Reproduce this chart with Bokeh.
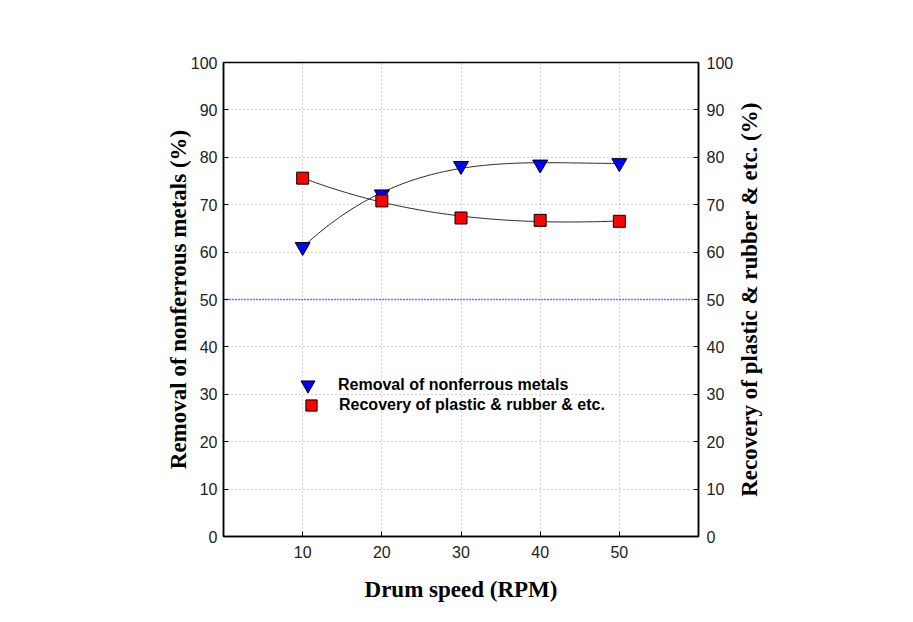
import math
import numpy as np
from bokeh.plotting import figure
from bokeh.layouts import row
from bokeh.models import (LinearAxis, Range1d, FixedTicker, Span, Legend, LegendItem,
                          ColumnDataSource, Label)
from bokeh.embed import file_html
from bokeh.resources import INLINE

# ---- data ----
drum_speed = [10, 20, 30, 40, 50]
removal_nonferrous = [61.1, 72.2, 78.2, 78.5, 78.8]
recovery_plastic = [75.6, 70.8, 67.2, 66.7, 66.5]
x_ticks = [10, 20, 30, 40, 50]
y_ticks = [0, 10, 20, 30, 40, 50, 60, 70, 80, 90, 100]

# ---- fitted trend lines (from the data) ----
xs_fit = np.linspace(min(drum_speed), max(drum_speed), 200)
blue_fit = np.polyval(np.polyfit(drum_speed, removal_nonferrous, 3), xs_fit)
red_fit = np.polyval(np.polyfit(drum_speed, recovery_plastic, 3), xs_fit)

p = figure(width=734, height=610, output_backend="svg", toolbar_location=None,
           x_range=Range1d(0, 60), y_range=Range1d(0, 100),
           min_border_left=223, min_border_right=36, min_border_top=62, min_border_bottom=74)
p.frame_width = 475
p.frame_height = 474
p.outline_line_color = "black"
p.outline_line_width = 1.5
p.background_fill_color = "white"
p.border_fill_color = "white"

tick_font = "Liberation Sans"
lab_font = "Liberation Serif"

def style_axis(ax):
    ax.axis_line_color = "black"
    ax.axis_line_width = 1.5
    ax.major_tick_in = 5
    ax.major_tick_out = 0
    ax.minor_tick_in = 0
    ax.minor_tick_out = 0
    ax.major_tick_line_color = "black"
    ax.major_label_text_font = tick_font
    ax.major_label_text_font_size = "16px"
    ax.major_label_text_color = "#222222"
    ax.axis_label_text_font = lab_font
    ax.axis_label_text_font_style = "bold"
    ax.axis_label_text_font_size = "23px"
    ax.axis_label_text_color = "black"

p.xaxis.ticker = FixedTicker(ticks=x_ticks)
p.yaxis.ticker = FixedTicker(ticks=y_ticks)
p.xaxis.axis_label = "Drum speed (RPM)"
p.yaxis.axis_label = "Removal of nonferrous metals (%)"
style_axis(p.xaxis[0])
style_axis(p.yaxis[0])
p.xaxis.major_label_standoff = 9
p.xaxis.axis_label_standoff = 16
p.yaxis.major_label_standoff = 6
p.yaxis.axis_label_standoff = -3

right = LinearAxis(ticker=FixedTicker(ticks=y_ticks))
style_axis(right)
right.major_label_standoff = 8
p.add_layout(right, "right")

p.xgrid.ticker = FixedTicker(ticks=x_ticks)
p.ygrid.ticker = FixedTicker(ticks=y_ticks)
for g in (p.xgrid[0], p.ygrid[0]):
    g.grid_line_color = "#a8a8a8"
    g.grid_line_dash = "1 3"
    g.grid_line_width = 1

p.add_layout(Span(location=50, dimension="width", line_color="blue",
                  line_dash="1 2", line_width=1.5))

p.line(xs_fit, blue_fit, line_color="#222222", line_width=1)
p.line(xs_fit, red_fit, line_color="#222222", line_width=1)

src = ColumnDataSource(dict(x=drum_speed, b=removal_nonferrous, r=recovery_plastic))
rb = p.scatter("x", "b", source=src, marker="inverted_triangle", size=15,
               fill_color="#0000ff", line_color="black", line_width=1)
rr = p.scatter("x", "r", source=src, marker="square", size=12,
               fill_color="#ff0000", line_color="black", line_width=1)

common = dict(border_line_color=None, background_fill_alpha=0, padding=0, margin=0,
              spacing=0, label_text_font=tick_font, label_text_font_style="bold",
              label_text_font_size="16px", label_text_color="black")
legend1 = Legend(items=[LegendItem(label="Removal of nonferrous metals", renderers=[rb])],
                 location=(67, 134), glyph_width=35, glyph_height=35, label_height=35,
                 label_standoff=13, **common)
legend2 = Legend(items=[LegendItem(label="Recovery of plastic & rubber & etc.", renderers=[rr])],
                 location=(74, 117), glyph_width=28, glyph_height=28, label_height=28,
                 label_standoff=14, **common)
p.add_layout(legend1)
p.add_layout(legend2)

# narrow companion panel carrying the right-hand axis title (reads bottom-to-top)
p2 = figure(width=60, height=610, output_backend="svg", toolbar_location=None,
            x_range=Range1d(0, 1), y_range=Range1d(0, 1),
            min_border_left=0, min_border_right=0, min_border_top=0, min_border_bottom=0)
p2.axis.visible = False
p2.grid.visible = False
p2.outline_line_color = None
p2.background_fill_color = "white"
p2.border_fill_color = "white"
p2.add_layout(Label(x=13, y=0.5, x_units="screen", y_units="data",
                    text="Recovery of plastic & rubber & etc. (%)", angle=math.pi / 2,
                    text_align="center", text_baseline="middle",
                    text_font=lab_font, text_font_style="bold", text_font_size="23px",
                    text_color="black"))

layout = row(p, p2, spacing=0)
open("out.html", "w").write(file_html(layout, INLINE))
